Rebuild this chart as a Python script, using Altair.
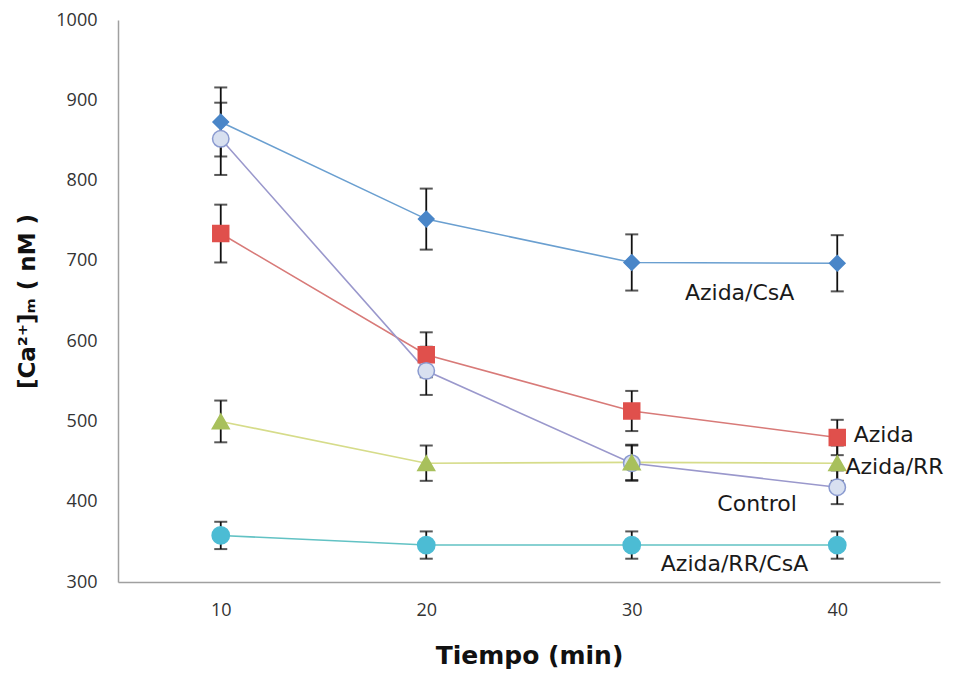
import altair as alt
import pandas as pd

tiempo = [10, 20, 30, 40]
y_ticks = [300, 400, 500, 600, 700, 800, 900, 1000]
series = ["Azida/CsA", "Azida", "Control", "Azida/RR", "Azida/RR/CsA"]
valores = {
    "Azida/CsA": [873, 752, 698, 697],
    "Azida": [734, 583, 513, 480],
    "Control": [852, 563, 448, 418],
    "Azida/RR": [500, 448, 449, 448],
    "Azida/RR/CsA": [358, 346, 346, 346],
}
errores = {
    "Azida/CsA": [43, 38, 35, 35],
    "Azida": [36, 28, 25, 22],
    "Control": [45, 30, 22, 21],
    "Azida/RR": [26, 22, 22, 22],
    "Azida/RR/CsA": [17, 17, 17, 17],
}
line_colors = ["#6a9fd0", "#d87a78", "#9a98cc", "#d6dc8a", "#62c2c4"]
fill_colors = ["#4a86c8", "#e0504c", "#d8e0f0", "#a8c05c", "#4cbcd4"]
stroke_colors = ["#4a86c8", "#e0504c", "#8a9ad0", "#a8c05c", "#4cbcd4"]
shapes = ["diamond", "square", "circle", "triangle-up", "circle"]
sizes = [240, 300, 290, 260, 280]

etiquetas = ["Azida/CsA", "Azida", "Azida/RR", "Control", "Azida/RR/CsA"]
etq_x = [35.25, 40.8, 40.4, 36.1, 35.0]
etq_y = [660, 483, 443, 397, 322]
etq_align = ["center", "left", "left", "center", "center"]

X_TITLE = "Tiempo  (min)"
Y_TITLE = "[Ca²⁺]ₘ  ( nM )"

rows = []
for s in series:
    for t, v, e in zip(tiempo, valores[s], errores[s]):
        rows.append({"serie": s, "t": t, "v": v, "lo": v - e, "hi": v + e})
df = pd.DataFrame(rows)
lab = pd.DataFrame({"txt": etiquetas, "x": etq_x, "y": etq_y, "al": etq_align})

xs = alt.Scale(domain=[5, 45], nice=False, zero=False)
ys = alt.Scale(domain=[300, 1000], nice=False, zero=False)
x_axis = alt.Axis(values=tiempo, format="d", title=X_TITLE)
y_axis = alt.Axis(values=y_ticks, format="d", title=Y_TITLE)


def X(f):
    return alt.X(f, scale=xs, axis=x_axis, title=X_TITLE)


def Y(f):
    return alt.Y(f, scale=ys, axis=y_axis, title=Y_TITLE)


base = alt.Chart(df)
lines = base.mark_line(strokeWidth=1.6).encode(
    x=X("t:Q"), y=Y("v:Q"),
    color=alt.Color("serie:N", scale=alt.Scale(domain=series, range=line_colors), legend=None),
    detail="serie:N")
rules = base.mark_rule(color="#111111", strokeWidth=1.8).encode(
    x=X("t:Q"), y=Y("lo:Q"), y2="hi:Q")
cap_lo = base.mark_tick(color="#111111", thickness=2, size=13, orient="horizontal").encode(
    x=X("t:Q"), y=Y("lo:Q"))
cap_hi = base.mark_tick(color="#111111", thickness=2, size=13, orient="horizontal").encode(
    x=X("t:Q"), y=Y("hi:Q"))
points = base.mark_point(filled=True, opacity=1, strokeWidth=1.5).encode(
    x=X("t:Q"), y=Y("v:Q"),
    shape=alt.Shape("serie:N", scale=alt.Scale(domain=series, range=shapes), legend=None),
    fill=alt.Fill("serie:N", scale=alt.Scale(domain=series, range=fill_colors), legend=None),
    stroke=alt.Stroke("serie:N", scale=alt.Scale(domain=series, range=stroke_colors), legend=None),
    size=alt.Size("serie:N", scale=alt.Scale(domain=series, range=sizes), legend=None))

texts = []
for al in ["left", "center"]:
    texts.append(alt.Chart(lab[lab["al"] == al]).mark_text(
        align=al, baseline="middle", font="DejaVu Sans", fontSize=22, color="#1a1a1a"
    ).encode(x=X("x:Q"), y=Y("y:Q"), text="txt:N"))

chart = alt.layer(lines, rules, cap_lo, cap_hi, points, *texts).properties(
    width=822, height=562,
    background="white",
    autosize=alt.AutoSizeParams(type="none"),
    padding={"left": 110, "top": 12, "right": 10, "bottom": 88},
).configure_view(stroke=None).configure_axis(
    ticks=False, grid=False, domainColor="#a0a0a0", domainWidth=1.5,
    labelFont="Open Sans", labelFontSize=18, labelColor="#333333",
    titleFont="DejaVu Sans", titleFontWeight="bold", titleColor="#111111",
).configure_axisX(
    labelPadding=19, titleFontSize=25, titlePadding=24,
).configure_axisY(
    labelPadding=21, titleFontSize=23, titlePadding=16,
)

chart.save("out.html", embed_options={"renderer": "svg", "actions": False})
